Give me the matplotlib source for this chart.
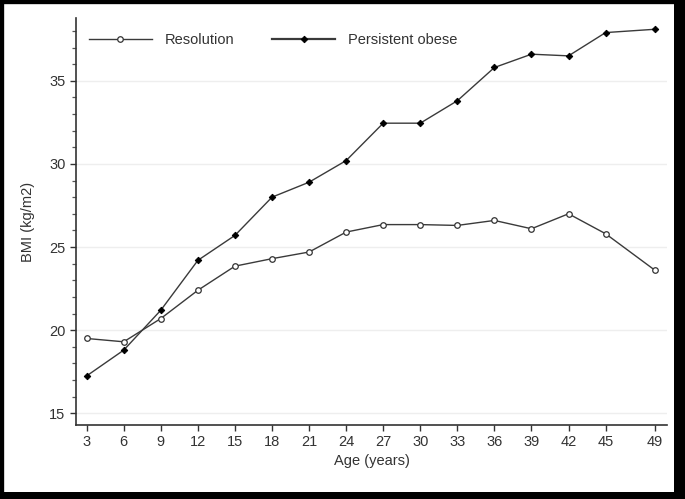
import matplotlib
matplotlib.use("Agg")
import matplotlib.pyplot as plt
from matplotlib.patches import Rectangle
from matplotlib.ticker import MultipleLocator

ages = [3, 6, 9, 12, 15, 18, 21, 24, 27, 30, 33, 36, 39, 42, 45, 49]
resolution = [19.5, 19.3, 20.7, 22.4, 23.85, 24.3, 24.7, 25.9, 26.35, 26.35, 26.3, 26.6, 26.1, 27.0, 25.8, 23.6]
persistent = [17.25, 18.8, 21.2, 24.2, 25.7, 28.0, 28.9, 30.2, 32.45, 32.45, 33.8, 35.8, 36.6, 36.5, 37.9, 38.1]
y_ticks = [15, 20, 25, 30, 35]

plt.rcParams['font.family'] = ['Liberation Sans', 'DejaVu Sans']
txt = '#333333'
line_c = '#3a3a3a'

W, H = 685, 499
fig = plt.figure(figsize=(W / 100, H / 100), dpi=100)
ax = fig.add_axes([76 / W, 1 - 425 / H, (667 - 76) / W, (425 - 18) / H])

ax.plot(ages, resolution, color=line_c, lw=1.0, marker='o', ms=4.0,
        mfc='white', mec='#333333', mew=0.9, label='Resolution', zorder=3)
ax.plot(ages, persistent, color=line_c, lw=1.0, marker='D', ms=3.3,
        mfc='black', mec='black', mew=0.7, label='Persistent obese', zorder=3)

# axis limits: 3 at px 86.7, 12.37 px/yr; 15 at px 413.3, 16.6 px/unit
ax.set_xlim(3 - (86.7 - 76) / 12.37, 49 + (667 - 655) / 12.37)
ax.set_ylim(15 - (425 - 413.3) / 16.6, 35 + (80.7 - 18) / 16.6)

ax.set_xticks(ages)
ax.set_xticklabels([str(a) for a in ages])
ax.set_yticks(y_ticks)
ax.yaxis.set_minor_locator(MultipleLocator(1))
ax.grid(axis='y', which='major', color='#eeeeee', lw=1.0, zorder=0)

for s in ['top', 'right']:
    ax.spines[s].set_visible(False)
for s in ['left', 'bottom']:
    ax.spines[s].set_color('#333333')
    ax.spines[s].set_linewidth(1.2)

ax.tick_params(axis='both', which='major', direction='out', length=4.5, width=1.0,
               color='#333333', labelcolor=txt, labelsize=10.5, pad=3)
ax.tick_params(axis='y', which='minor', direction='out', length=3, width=0.9, color='#555555')

ax.set_xlabel('Age (years)', fontsize=10.5, color=txt, labelpad=3)
ax.set_ylabel('BMI (kg/m2)', fontsize=10.5, color=txt, labelpad=10)

leg = ax.legend(loc='upper left', bbox_to_anchor=((89 - 76) / (667 - 76), 1 - (33 - 18) / (425 - 18)),
                ncol=2, frameon=False, fontsize=10.5, handlelength=4.3,
                handletextpad=0.9, columnspacing=2.6, borderpad=0, borderaxespad=0)
for t in leg.get_texts():
    t.set_color(txt)
leg.get_lines()[1].set_linewidth(1.6)

# outer frame of the figure
fig.patches.append(Rectangle((0, 0), 1, 1, transform=fig.transFigure, fill=False,
                             edgecolor='black', lw=6, zorder=10))
fig.patches.append(Rectangle((674 / W, 0), (W - 674) / W, 1, transform=fig.transFigure,
                             facecolor='black', edgecolor='none', zorder=10))
fig.patches.append(Rectangle((0, 0), 1, (H - 492) / H, transform=fig.transFigure,
                             facecolor='black', edgecolor='none', zorder=10))

fig.savefig('out.png', dpi=100)
